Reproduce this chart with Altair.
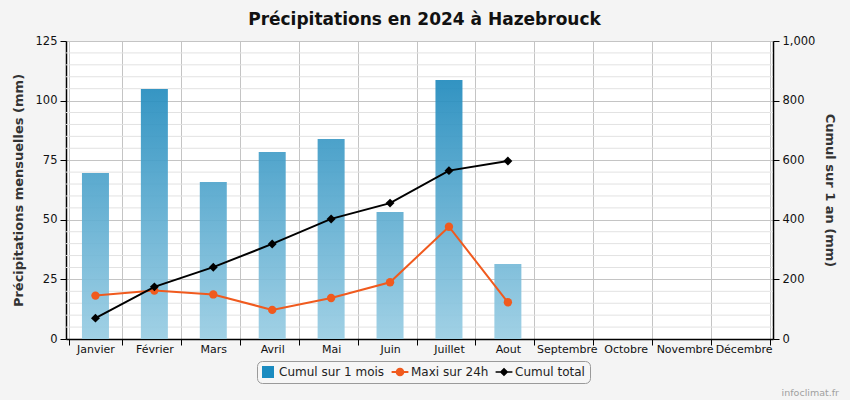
import altair as alt
import pandas as pd

months = ["Janvier", "Février", "Mars", "Avril", "Mai", "Juin", "Juillet",
          "Aout", "Septembre", "Octobre", "Novembre", "Décembre"]
monthly = [69.6, 104.9, 65.9, 78.4, 83.9, 53.3, 108.6, 31.5]
maxi24 = [18.2, 20.3, 18.7, 12.2, 17.2, 23.8, 47.1, 15.4]
cumul = [70, 175, 241, 319, 403, 456, 565, 597]
series = ["Cumul sur 1 mois", "Maxi sur 24h", "Cumul total"]
series_colors = ["#1a8bc0", "#f05a1e", "#000000"]

df = pd.DataFrame({
    "mois": months[:len(monthly)],
    "mensuel": monthly,
    "maxi": maxi24,
    "cumul": cumul,
})

FONT = "DejaVu Sans"
YMAX = 125
BAR_TOP = "#0e80b7"
BAR_BOTTOM = "#99cde3"

x_enc = alt.X(
    "mois:N",
    sort=months,
    scale=alt.Scale(domain=months),
    axis=alt.Axis(
        title=None, labelAngle=0, tickBand="extent", grid=True,
        gridColor="#c4c4c4", gridWidth=1, domainColor="#000000",
        domainWidth=1.5, tickColor="#000000", tickSize=6,
        labelFontSize=11, labelFont=FONT, labelColor="#111111",
        labelPadding=-2,
    ),
)
y_axis = alt.Axis(
    title="Précipitations mensuelles (mm)", values=list(range(0, 126, 25)),
    grid=True, gridColor="#c4c4c4", domainColor="#000000", domainWidth=1.5,
    tickColor="#000000", tickSize=6, labelFontSize=11.5, labelFont=FONT,
    labelColor="#111111", labelPadding=3, titleFont=FONT, titleFontSize=13,
    titleFontWeight="bold", titleColor="#333333", titlePadding=10,
)
y_scale = alt.Scale(domain=[0, YMAX], nice=False)

base = alt.Chart(df)

minor = alt.Chart(alt.sequence(0, YMAX + 1, 5, as_="v")).transform_filter(
    "datum.v % 25 != 0"
).mark_rule(color="#e2e2e2", strokeWidth=1).encode(
    y=alt.Y("v:Q", scale=y_scale, axis=y_axis)
)

bar_layers = []
for m, v in zip(df["mois"], df["mensuel"]):
    grad = alt.Gradient(
        gradient="linear",
        x1=0, x2=0, y1=1 - YMAX / v, y2=1,
        stops=[alt.GradientStop(color=BAR_TOP, offset=0),
               alt.GradientStop(color=BAR_BOTTOM, offset=1)],
    )
    bar_layers.append(
        base.transform_filter(alt.datum.mois == m).mark_bar(
            size=27, color=grad, opacity=0.92
        ).encode(
            x=x_enc,
            y=alt.Y("mensuel:Q", scale=y_scale, axis=y_axis),
        )
    )

maxi_line = base.mark_line(
    color=series_colors[1], strokeWidth=2,
    point=alt.OverlayMarkDef(filled=True, size=70, color=series_colors[1], opacity=1),
).encode(
    x=x_enc,
    y=alt.Y("maxi:Q", scale=y_scale, axis=y_axis),
)

circle_line = ("M-1.4,-0.16H1.4V0.16H-1.4Z "
               "M-0.72,0A0.72,0.72 0 1,1 0.72,0A0.72,0.72 0 1,1 -0.72,0Z")
diamond_line = ("M-1.4,-0.14H1.4V0.14H-1.4Z "
                "M0,-0.72L0.72,0L0,0.72L-0.72,0Z")

# legend-only layer: its points are placed below the visible page
legend_layer = alt.Chart(pd.DataFrame({"serie": series})).mark_point(
    filled=True, opacity=1, size=144
).encode(
    x=alt.value(100),
    y=alt.value(3000),
    color=alt.Color(
        "serie:N",
        scale=alt.Scale(domain=series, range=series_colors),
        legend=alt.Legend(
            title=None, orient="none", direction="horizontal",
            legendX=191, legendY=320, symbolOpacity=1, symbolSize=144,
            symbolStrokeWidth=0, labelFont=FONT, labelFontSize=12,
            labelColor="#222222", labelOffset=5, columnPadding=6,
            padding=5, strokeColor="#9a9a9a", cornerRadius=5,
            fillColor="#f6f6f6", labelLimit=200,
        ),
    ),
    shape=alt.Shape(
        "serie:N",
        scale=alt.Scale(domain=series, range=["square", circle_line, diamond_line]),
        legend=alt.Legend(title=None, orient="none", legendX=191, legendY=320),
    ),
)

credit = alt.Chart(pd.DataFrame({"t": ["infoclimat.fr"]})).mark_text(
    align="right", baseline="alphabetic", font=FONT, fontSize=9.5, color="#a0a0a0"
).encode(text="t:N", x=alt.value(773), y=alt.value(355))

left = alt.layer(minor, *bar_layers, maxi_line, legend_layer, credit)

right = base.mark_line(
    color="#000000", strokeWidth=2,
    point=alt.OverlayMarkDef(filled=True, shape="diamond", size=80, color="#000000", opacity=1),
).encode(
    x=x_enc,
    y=alt.Y(
        "cumul:Q",
        scale=alt.Scale(domain=[0, 1000], nice=False),
        axis=alt.Axis(
            title="Cumul sur 1 an (mm)", orient="right", values=list(range(0, 1001, 200)),
            format=",d", grid=False, domainColor="#000000", domainWidth=1.5,
            tickColor="#000000", tickSize=6, labelFontSize=11.5, labelFont=FONT,
            labelColor="#111111", labelPadding=3, titleFont=FONT, titleFontSize=13,
            titleFontWeight="bold", titleColor="#333333", titlePadding=8,
            titleAngle=90,
        ),
    ),
)

chart = alt.layer(left, right).resolve_scale(
    y="independent", color="independent", shape="independent"
).properties(
    width=707,
    height=298,
    padding={"left": 66, "top": 41, "right": 77, "bottom": 61},
    autosize=alt.AutoSizeParams(type="none"),
    background="#f4f4f4",
    view=alt.ViewBackground(fill="#ffffff", stroke="#c0c0c0", strokeWidth=1),
    title=alt.TitleParams(
        "Précipitations en 2024 à Hazebrouck", font=FONT, fontSize=17,
        fontWeight="bold", color="#111111", anchor="middle", frame="group",
        dx=5, offset=6,
    ),
).configure_view(
    fill="#ffffff", stroke="#c0c0c0", strokeWidth=1
)

chart.save("out.html", embed_options={"renderer": "svg", "actions": False})
